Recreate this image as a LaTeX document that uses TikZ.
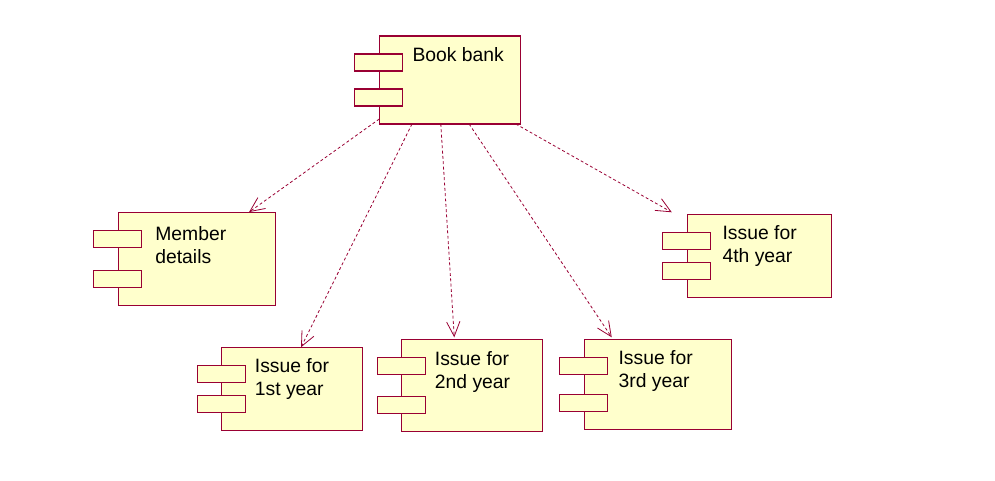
\documentclass[tikz,border=0pt]{standalone}
\usepackage{fontspec}
\setmainfont{Liberation Sans}
\usepackage{tikz}
\usetikzlibrary{arrows.meta, positioning, calc}
\usepackage{xcolor}
\definecolor{compline}{HTML}{990033}
\definecolor{compfill}{HTML}{FFFFCC}

\tikzset{
  comp/.style={draw=compline, fill=compfill, line width=0.8pt, outer sep=0pt},
  tab/.style={comp, minimum width=36pt, minimum height=12.75pt},
  txt/.style={anchor=north west, inner sep=0pt, align=left,
              font=\fontsize{14.5}{17.2}\selectfont},
  dep/.style={compline, line width=0.6pt, dash pattern=on 2.2pt off 1.8pt,
              -{Straight Barb[length=11pt, width=10pt]}}
}

\begin{document}
\begin{tikzpicture}[x=0.75pt, y=-0.75pt]
    \useasboundingbox (0,0) rectangle (995,480);
    % components
    \node[comp, minimum width=105.75pt, minimum height=66pt] (bank) at (449.8,80) {};
    \node[comp, minimum width=117.75pt, minimum height=69.75pt] (mem) at (196.6,258.6) {};
    \node[comp, minimum width=105.5pt, minimum height=62.6pt] (y1) at (292,389) {};
    \node[comp, minimum width=105.5pt, minimum height=69.3pt] (y2) at (472,385.5) {};
    \node[comp, minimum width=110.5pt, minimum height=67.3pt] (y3) at (658,384.2) {};
    \node[comp, minimum width=108.3pt, minimum height=62.6pt] (y4) at (759.5,256) {};
    \foreach \c in {bank, mem, y1, y2, y3, y4} {
      \node[tab, anchor=north west] (\c-a) at ($(\c.north west)+(-24.5,18)$) {};
      \node[tab, anchor=south west] (\c-b) at ($(\c.south west)+(-24.5,-18)$) {};
    }
    \node[txt] (bank-l) at ($(bank.north west)+(33,11)$) {Book bank};
    \node[txt] (mem-l) at ($(mem.north west)+(37,14)$) {Member\\details};
    \node[txt] (y1-l) at ($(y1.north west)+(33,11)$) {Issue for\\1st year};
    \node[txt] (y2-l) at ($(y2.north west)+(33,12)$) {Issue for\\2nd year};
    \node[txt] (y3-l) at ($(y3.north west)+(34,11)$) {Issue for\\3rd year};
    \node[txt] (y4-l) at ($(y4.north west)+(35,11)$) {Issue for\\4th year};
    % dependencies
    \coordinate (y4-end) at ($(y4.north west)+(-15.5,-2)$);
    \draw[dep] ($(bank.south west)+(0,-5)$) -- ($(mem.north west)!0.834!(mem.north east)$);
    \draw[dep] ($(bank.south west)!0.232!(bank.south east)$) -- ($(y1.north west)!0.564!(y1.north east)$);
    \draw[dep] ($(bank.south west)!0.436!(bank.south east)$) -- ($(y2.north west)!0.374!(y2.north east)+(0,-2)$);
    \draw[dep] ($(bank.south west)!0.637!(bank.south east)$) -- ($(y3.north west)!0.186!(y3.north east)+(0,-2)$);
    \draw[dep] ($(bank.south west)!0.968!(bank.south east)$) -- (y4-end);
\end{tikzpicture}
\end{document}
